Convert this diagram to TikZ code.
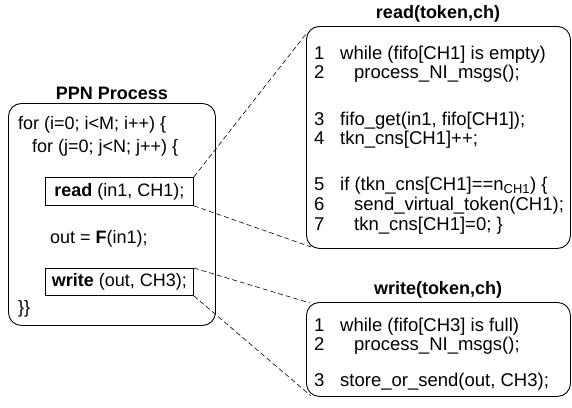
\documentclass[tikz,border=0pt]{standalone}
\usepackage{fontspec}
\setmainfont{Liberation Sans}
\usetikzlibrary{calc}
\begin{document}
\begin{tikzpicture}[x=1pt,y=-1pt,
  code/.style={anchor=base west, inner sep=0pt, font=\fontsize{18}{20}\selectfont},
  rcode/.style={anchor=base west, inner sep=0pt, font=\fontsize{18.5}{21}\selectfont},
  title/.style={anchor=base, inner sep=0pt, font=\bfseries\fontsize{18}{20}\selectfont},
  panel/.style={draw, rounded corners=13pt, line width=0.9pt, anchor=north west, inner sep=0pt},
  callbox/.style={draw, line width=0.8pt, anchor=north west, inner sep=0pt, font=\fontsize{18}{20}\selectfont},
  link/.style={line width=0.6pt, dash pattern=on 5pt off 3pt}]
\useasboundingbox (0,0) rectangle (572,407);
% left panel
\node[title] (ppnt) at (112,99) {PPN Process};
\node[panel, minimum width=207pt, minimum height=222pt] (ppn) at (8,103) {};
\node[code] (l1) at (18,129) {for (i=0; i<M; i++) \{};
\node[code] (l2) at (32,152) {for (j=0; j<N; j++) \{};
\node[callbox, minimum width=148pt, minimum height=28pt] (rd) at (45,177) {\textbf{read} (in1, CH1);};
\node[code] (l3) at (50,243) {out = \textbf{F}(in1);};
\node[callbox, minimum width=148pt, minimum height=27pt] (wr) at (45,268) {\textbf{write} (out, CH3);};
\node[code] (l4) at (18,313) {\}\}};
% read panel
\node[title] (rbt) at (438,18) {read(token,ch)};
\node[panel, minimum width=264pt, minimum height=222pt] (rb) at (306,26) {};
\node[rcode] (r1n) at (314,59) {1};  \node[rcode] (r1) at (340,59) {while (fifo[CH1] is empty)};
\node[rcode] (r2n) at (314,78) {2};  \node[rcode] (r2) at (354,78) {process\_NI\_msgs();};
\node[rcode] (r3n) at (314,125) {3}; \node[rcode] (r3) at (340,125) {fifo\_get(in1, fifo[CH1]);};
\node[rcode] (r4n) at (314,144) {4}; \node[rcode] (r4) at (340,144) {tkn\_cns[CH1]++;};
\node[rcode] (r5n) at (314,190) {5}; \node[rcode] (r5) at (340,190) {if (tkn\_cns[CH1]==n\textsubscript{CH1}) \{};
\node[rcode] (r6n) at (314,210) {6}; \node[rcode] (r6) at (354,210) {send\_virtual\_token(CH1);};
\node[rcode] (r7n) at (314,230) {7}; \node[rcode] (r7) at (354,230) {tkn\_cns[CH1]=0; \}};
% write panel
\node[title] (wbt) at (438,294) {write(token,ch)};
\node[panel, minimum width=264pt, minimum height=94pt] (wb) at (306,302) {};
\node[rcode] (w1n) at (314,331) {1}; \node[rcode] (w1) at (340,331) {while (fifo[CH3] is full)};
\node[rcode] (w2n) at (314,350) {2}; \node[rcode] (w2) at (354,350) {process\_NI\_msgs();};
\node[rcode] (w3n) at (314,386) {3}; \node[rcode] (w3) at (340,386) {store\_or\_send(out, CH3);};
% connectors
\draw[link] (rd.north east) -- ($(rb.north west)+(0,8)$);
\draw[link] (rd.south east) -- ($(rb.south west)+(5,-2)$);
\draw[link] (wr.north east) -- ($(wb.north west)+(4,1)$);
\draw[link] (wr.south east) -- ($(wb.south west)+(5,-1)$);
\end{tikzpicture}
\end{document}
